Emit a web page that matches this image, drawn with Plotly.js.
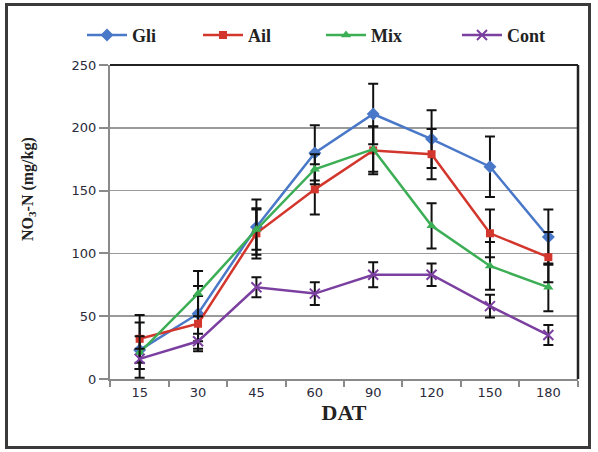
<!DOCTYPE html>
<html>
<head>
<meta charset="utf-8">
<script src="https://cdn.plot.ly/plotly-3.0.1.min.js"></script>
<style>
  html, body { margin: 0; padding: 0; background: #fff; }
  #wrap { position: relative; width: 598px; height: 452px; }
  #chart { width: 598px; height: 452px; }
  #frame { position: absolute; left: 5px; top: 3px; width: 580px; height: 440px;
           border: 3px solid #3a3a3a; pointer-events: none; }
</style>
</head>
<body>
<div id="wrap">
  <div id="chart"></div>
  <div id="frame"></div>
</div>
<script>
const categories = ["15", "30", "45", "60", "90", "120", "150", "180"];

const gli     = [23, 52, 121, 180, 211, 191, 169, 113];
const gliErr  = [22, 22, 22, 22, 24, 23, 24, 22];
const ail     = [32, 44, 116, 151, 182, 179, 116, 97];
const ailErr  = [19, 22, 20, 20, 19, 20, 19, 20];
const mix     = [21, 68, 119, 167, 183, 122, 90, 73];
const mixErr  = [13, 18, 16, 12, 18, 18, 19, 19];
const cont    = [16, 30, 73, 68, 83, 83, 58, 35];
const contErr = [8, 6, 8, 9, 10, 9, 9, 8];

const seriesNames = ["Gli", "Ail", "Mix", "Cont"];
const yTicks = [0, 50, 100, 150, 200, 250];

function mk(name, y, err, color, symbol, size, legendId) {
  return {
    type: "scatter", mode: "lines+markers", name: name, legend: legendId,
    x: categories, y: y,
    line: { color: color, width: 2.5 },
    marker: { symbol: symbol, size: size, color: color,
              line: { color: color, width: symbol === "x-thin" ? 2 : 0 } },
    error_y: { type: "data", array: err, visible: true, color: "#111",
               thickness: 2, width: 5 }
  };
}

const traces = [
  mk(seriesNames[0], gli,  gliErr,  "#4a78c8", "diamond", 10, "legend"),
  mk(seriesNames[1], ail,  ailErr,  "#d3362c", "square", 8, "legend2"),
  mk(seriesNames[2], mix,  mixErr,  "#3cae55", "triangle-up", 9, "legend3"),
  mk(seriesNames[3], cont, contErr, "#7b3fa0", "x-thin", 10, "legend4")
];

function legendAt(px) {
  return {
    orientation: "h", xref: "container", yref: "container",
    x: px / 598, y: 0.922, xanchor: "left", yanchor: "middle",
    font: { family: "Liberation Serif", size: 18, color: "#222", weight: "bold" },
    bgcolor: "rgba(0,0,0,0)", itemwidth: 40
  };
}

const layout = {
  width: 598, height: 452,
  margin: { l: 110, r: 20, t: 65, b: 73 },
  paper_bgcolor: "#fff", plot_bgcolor: "#fff",
  showlegend: true,
  legend: legendAt(82),
  legend2: legendAt(198),
  legend3: legendAt(321),
  legend4: legendAt(457),
  xaxis: {
    type: "category", tickson: "boundaries",
    showline: true, linecolor: "#8a8a8a", linewidth: 2,
    ticks: "outside", ticklen: 6, tickcolor: "#8a8a8a", tickwidth: 2,
    showgrid: false, zeroline: false,
    tickfont: { family: "DejaVu Sans", size: 13, color: "#2a2a3a" },
    title: { text: "DAT", standoff: 6,
             font: { family: "Liberation Serif", size: 22, color: "#222", weight: "bold" } }
  },
  yaxis: {
    range: [0, 250], tickvals: yTicks, ticktext: yTicks.map(String),
    showline: true, linecolor: "#8a8a8a", linewidth: 2,
    ticks: "outside", ticklen: 9, tickcolor: "#8a8a8a", tickwidth: 2,
    showgrid: true, gridcolor: "#9a9a9a", gridwidth: 1.5, zeroline: false,
    tickfont: { family: "DejaVu Sans", size: 13, color: "#2a2a3a" }
  },
  annotations: [
    { text: "NO<sub>3</sub>-N (mg/kg)", xref: "paper", yref: "paper",
      x: 0, y: 0.605, xanchor: "center", yanchor: "middle", xshift: -82,
      textangle: -90, showarrow: false,
      font: { family: "Liberation Serif", size: 16, color: "#222", weight: "bold" } }
  ],
  shapes: [
    { type: "line", xref: "paper", yref: "paper", x0: 0, x1: 1, y0: 1, y1: 1,
      line: { color: "#222", width: 2 } },
    { type: "line", xref: "paper", yref: "paper", x0: 1, x1: 1, y0: 0, y1: 1,
      line: { color: "#222", width: 2.5 } }
  ]
};

Plotly.newPlot("chart", traces, layout, { staticPlot: true, displayModeBar: false });
</script>
</body>
</html>
